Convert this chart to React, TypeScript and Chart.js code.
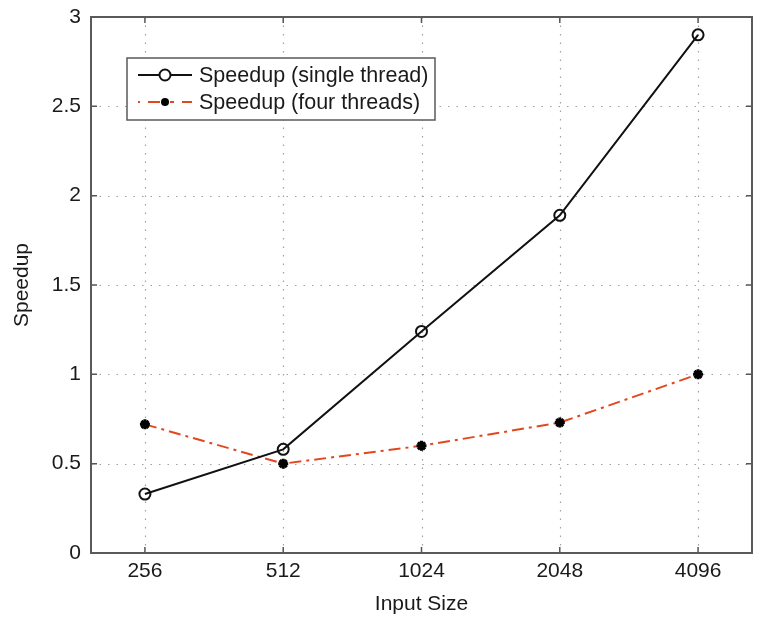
import React, { useEffect, useRef } from "react";
import { Chart, registerables } from "chart.js";

Chart.register(...registerables);

const categories = ["256", "512", "1024", "2048", "4096"];
const singleThread = [0.33, 0.58, 1.24, 1.89, 2.9];
const fourThreads = [0.72, 0.5, 0.6, 0.73, 1.0];
const seriesLabels = ["Speedup (single thread)", "Speedup (four threads)"];
const yTicks = [0, 0.5, 1, 1.5, 2, 2.5, 3];

const FONT = "'Liberation Sans', Arial, sans-serif";
const RED = "#e2471f";
const TXT = "#1a1a1a";

const framePlugin = {
  id: "matlabFrame",
  beforeDatasetsDraw(chart: any) {
    const { ctx, chartArea: a, scales } = chart;
    const xs = scales.x, ys = scales.y;
    ctx.save();
    ctx.strokeStyle = "#a0a0a0";
    ctx.lineWidth = 1.2;
    ctx.setLineDash([1.5, 7]);
    categories.forEach((_, i) => {
      const px = Math.round(xs.getPixelForValue(i)) + 0.5;
      ctx.beginPath();
      ctx.moveTo(px, a.top);
      ctx.lineTo(px, a.bottom);
      ctx.stroke();
    });
    yTicks.forEach((v) => {
      const py = Math.round(ys.getPixelForValue(v)) + 0.5;
      ctx.beginPath();
      ctx.moveTo(a.left, py);
      ctx.lineTo(a.right, py);
      ctx.stroke();
    });
    ctx.setLineDash([]);
    ctx.strokeStyle = "#555";
    ctx.lineWidth = 1.5;
    const tl = 6;
    categories.forEach((_, i) => {
      const px = xs.getPixelForValue(i);
      ctx.beginPath();
      ctx.moveTo(px, a.bottom);
      ctx.lineTo(px, a.bottom - tl);
      ctx.moveTo(px, a.top);
      ctx.lineTo(px, a.top + tl);
      ctx.stroke();
    });
    yTicks.forEach((v) => {
      const py = ys.getPixelForValue(v);
      ctx.beginPath();
      ctx.moveTo(a.left, py);
      ctx.lineTo(a.left + tl, py);
      ctx.moveTo(a.right, py);
      ctx.lineTo(a.right - tl, py);
      ctx.stroke();
    });
    ctx.lineWidth = 2;
    ctx.strokeStyle = "#5a5a5a";
    ctx.strokeRect(a.left, a.top, a.right - a.left, a.bottom - a.top);
    ctx.restore();
  },
  afterDatasetsDraw(chart: any) {
    const { ctx } = chart;
    const bx = 127, by = 58, bw = 308, bh = 62;
    ctx.save();
    ctx.fillStyle = "#fff";
    ctx.fillRect(bx, by, bw, bh);
    ctx.strokeStyle = "#5a5a5a";
    ctx.lineWidth = 1.5;
    ctx.strokeRect(bx, by, bw, bh);
    const rows = [75, 102];
    ctx.strokeStyle = "#111";
    ctx.lineWidth = 2;
    ctx.beginPath();
    ctx.moveTo(138, rows[0]);
    ctx.lineTo(192, rows[0]);
    ctx.stroke();
    ctx.fillStyle = "#fff";
    ctx.beginPath();
    ctx.arc(165, rows[0], 5.5, 0, Math.PI * 2);
    ctx.fill();
    ctx.stroke();
    ctx.strokeStyle = RED;
    ctx.lineWidth = 2;
    const segs = [[138, 140], [148, 160], [170, 174], [182, 192]];
    segs.forEach(([x0, x1]) => {
      ctx.beginPath();
      ctx.moveTo(x0, rows[1]);
      ctx.lineTo(x1, rows[1]);
      ctx.stroke();
    });
    ctx.fillStyle = "#000";
    ctx.beginPath();
    ctx.arc(165, rows[1], 4, 0, Math.PI * 2);
    ctx.fill();
    ctx.fillStyle = TXT;
    ctx.font = `21.5px ${FONT}`;
    ctx.textBaseline = "middle";
    ctx.textAlign = "left";
    ctx.fillText(seriesLabels[0], 199, rows[0] + 1);
    ctx.fillText(seriesLabels[1], 199, rows[1] + 1);
    ctx.restore();
  },
};

export default function App() {
  const ref = useRef<HTMLCanvasElement>(null);
  useEffect(() => {
    if (!ref.current) return;
    const chart = new Chart(ref.current, {
      type: "line",
      data: {
        datasets: [
          {
            label: seriesLabels[0],
            data: singleThread.map((y, i) => ({ x: i, y })),
            borderColor: "#111",
            borderWidth: 2,
            pointStyle: "circle",
            pointRadius: 5.5,
            pointBorderWidth: 2,
            pointBackgroundColor: "rgba(255,255,255,0)",
            pointBorderColor: "#111",
          },
          {
            label: seriesLabels[1],
            data: fourThreads.map((y, i) => ({ x: i, y })),
            borderColor: RED,
            borderWidth: 2,
            borderDash: [12, 5, 3, 5],
            pointStyle: "star",
            pointRadius: 5,
            pointBorderWidth: 3,
            pointBackgroundColor: "#000",
            pointBorderColor: "#000",
          },
        ],
      },
      options: {
        animation: false,
        responsive: false,
        maintainAspectRatio: false,
        layout: { padding: { left: 10, top: 17, right: 5, bottom: 0 } },
        plugins: { legend: { display: false }, tooltip: { enabled: false } },
        scales: {
          x: {
            type: "linear",
            min: -0.39,
            max: 4.39,
            afterBuildTicks: (s: any) => {
              s.ticks = categories.map((_, i) => ({ value: i }));
            },
            afterFit: (s: any) => {
              s.height = 64;
              s.paddingLeft = 0;
              s.paddingRight = 0;
            },
            ticks: {
              callback: (v: any) => categories[v] ?? "",
              color: TXT,
              font: { family: FONT, size: 21 },
              padding: 6,
              maxRotation: 0,
              autoSkip: false,
            },
            grid: { display: false, drawTicks: false, tickLength: 0 },
            border: { display: false },
            title: {
              display: true,
              text: "Input Size",
              color: TXT,
              font: { family: FONT, size: 21 },
              padding: { top: 0, bottom: 0 },
            },
          },
          y: {
            min: 0,
            max: 3,
            afterBuildTicks: (s: any) => {
              s.ticks = yTicks.map((v) => ({ value: v }));
            },
            afterFit: (s: any) => {
              s.width = 81;
              s.paddingTop = 0;
              s.paddingBottom = 0;
            },
            ticks: {
              callback: (v: any) => String(v),
              color: TXT,
              font: { family: FONT, size: 21 },
              padding: 10,
            },
            grid: { display: false, drawTicks: false, tickLength: 0 },
            border: { display: false },
            title: {
              display: true,
              text: "Speedup",
              color: TXT,
              font: { family: FONT, size: 21 },
              padding: { top: 0, bottom: 0 },
            },
          },
        },
      },
      plugins: [framePlugin],
    });
    return () => chart.destroy();
  }, []);
  return (
    <div style={{ position: "fixed", left: 0, top: 0, width: 760, height: 617, background: "#fff" }}>
      <canvas ref={ref} width={760} height={617} style={{ width: 760, height: 617 }} />
    </div>
  );
}
